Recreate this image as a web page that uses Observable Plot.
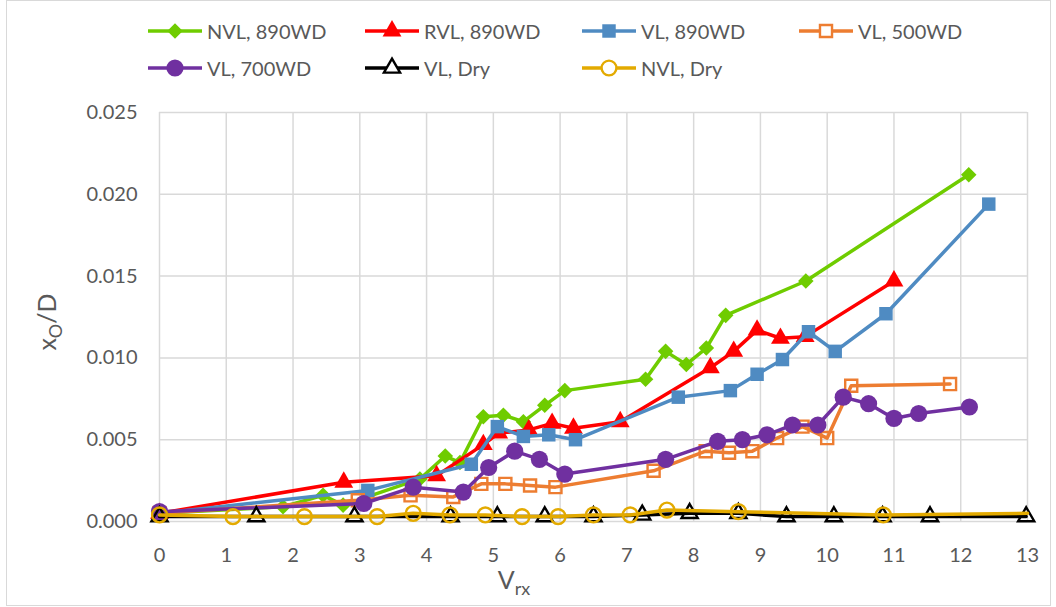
<!DOCTYPE html>
<html>
<head>
<meta charset="utf-8">
<script src="https://cdn.jsdelivr.net/npm/d3@7"></script>
<script src="https://cdn.jsdelivr.net/npm/@observablehq/plot@0.6"></script>
<style>
  html, body { margin: 0; padding: 0; background: #fff; }
  #chart { position: relative; width: 1056px; height: 607px; font-family: Lato, "Open Sans", sans-serif; color: #595959; }
  #border { position: absolute; left: 6px; top: 0px; width: 1043px; height: 604px; border: 1px solid #d9d9d9; pointer-events: none; }
  #legend { position: absolute; left: 148px; top: 12px; width: 880px; }
  .item { display: inline-flex; align-items: center; width: 217px; height: 37px; font-size: 20px; color: #595959; vertical-align: top; }
  .item svg { margin-right: 5px; overflow: visible; }
  #plot { position: absolute; left: 0; top: 90px; }
</style>
</head>
<body>
<div id="chart">
  <div id="legend"></div>
  <div id="plot"></div>
  <div id="border"></div>
</div>
<script>
// ---- data ----
const xTicks = [0,1,2,3,4,5,6,7,8,9,10,11,12,13];
const yTicks = [0, 0.005, 0.010, 0.015, 0.020, 0.025];

const names = ["NVL, 890WD", "RVL, 890WD", "VL, 890WD", "VL, 500WD", "VL, 700WD", "VL, Dry", "NVL, Dry"];

const nvl890X = [0, 1.85, 2.45, 2.75, 3.9, 4.28, 4.5, 4.85, 5.15, 5.45, 5.77, 6.07, 7.28, 7.58, 7.89, 8.19, 8.48, 9.68, 12.12];
const nvl890Y = [0.0005, 0.0009, 0.0016, 0.0010, 0.0026, 0.0040, 0.0036, 0.0064, 0.0065, 0.0061, 0.0071, 0.0080, 0.0087, 0.0104, 0.0096, 0.0106, 0.0126, 0.0147, 0.0212];

const rvl890X = [0, 2.76, 4.15, 4.85, 5.08, 5.53, 5.88, 6.2, 6.9, 8.25, 8.6, 8.95, 9.3, 9.67, 11.0];
const rvl890Y = [0.0005, 0.0024, 0.0028, 0.0047, 0.0054, 0.0056, 0.0060, 0.0057, 0.0061, 0.0094, 0.0104, 0.0117, 0.0112, 0.0113, 0.0147];

const vl890X = [0, 3.12, 4.67, 5.06, 5.45, 5.83, 6.23, 7.77, 8.55, 8.95, 9.33, 9.72, 10.12, 10.88, 12.42];
const vl890Y = [0.0005, 0.0019, 0.0035, 0.0058, 0.0052, 0.0053, 0.0050, 0.0076, 0.0080, 0.0090, 0.0099, 0.0116, 0.0104, 0.0127, 0.0194];

const vl500X = [0, 2.97, 3.76, 4.4, 4.82, 5.18, 5.55, 5.93, 7.4, 8.18, 8.53, 8.88, 9.25, 9.63, 10.0, 10.36, 11.84];
const vl500Y = [0.0005, 0.0013, 0.0016, 0.0015, 0.0023, 0.0023, 0.0022, 0.0021, 0.0031, 0.0043, 0.0042, 0.0043, 0.0051, 0.0058, 0.0051, 0.0083, 0.0084];

const vl700X = [0, 3.06, 3.8, 4.55, 4.93, 5.32, 5.69, 6.07, 7.58, 8.36, 8.73, 9.1, 9.48, 9.86, 10.24, 10.62, 11.0, 11.37, 12.13];
const vl700Y = [0.0006, 0.0011, 0.0021, 0.0018, 0.0033, 0.0043, 0.0038, 0.0029, 0.0038, 0.0049, 0.0050, 0.0053, 0.0059, 0.0059, 0.0076, 0.0072, 0.0063, 0.0066, 0.0070];

const vlDryX = [0, 1.45, 2.92, 4.36, 5.06, 5.77, 6.5, 7.23, 7.94, 8.67, 9.39, 10.1, 10.83, 11.54, 12.98];
const vlDryY = [0.0003, 0.0003, 0.0003, 0.0003, 0.0003, 0.0003, 0.0003, 0.0004, 0.0005, 0.0005, 0.0003, 0.0003, 0.0003, 0.0003, 0.0003];

const nvlDryX = [0, 1.1, 2.17, 3.26, 3.8, 4.35, 4.88, 5.43, 5.97, 6.5, 7.05, 7.6, 8.67, 10.84, 13.0];
const nvlDryY = [0.0004, 0.0003, 0.0003, 0.0003, 0.0005, 0.0004, 0.0004, 0.0003, 0.0003, 0.0004, 0.0004, 0.0007, 0.0006, 0.0004, 0.0005];
const nvlDryMarked = [1,1,1,1,1,1,1,1,1,1,1,1,1,1,0];

// ---- styling per series ----
const styles = [
  {color: "#6fcc00", symbol: "diamond2", r: 7.0, open: false},
  {color: "#ff0000", symbol: "triangle", r: 7.0, open: false},
  {color: "#4f8bc2", symbol: "square", r: 7.6, open: false},
  {color: "#ed7d31", symbol: "square", r: 6.8, open: true},
  {color: "#7030a0", symbol: "circle", r: 8.6, open: false},
  {color: "#000000", symbol: "triangle", r: 6.0, open: true},
  {color: "#e3aa00", symbol: "circle", r: 7.4, open: true}
];
const xs = [nvl890X, rvl890X, vl890X, vl500X, vl700X, vlDryX, nvlDryX];
const ys = [nvl890Y, rvl890Y, vl890Y, vl500Y, vl700Y, vlDryY, nvlDryY];

const series = names.map((name, k) => ({
  name, ...styles[k],
  rows: xs[k].map((x, i) => ({x, y: ys[k][i], marked: k === 6 ? nvlDryMarked[i] === 1 : true}))
}));

const marks = [
  Plot.gridX(xTicks, {stroke: "#d9d9d9", strokeOpacity: 1, strokeWidth: 1.5}),
  Plot.gridY(yTicks, {stroke: "#d9d9d9", strokeOpacity: 1, strokeWidth: 1.5}),
  Plot.axisX(xTicks, {tickSize: 0, tickPadding: 26, fontSize: 20, fill: "#595959", label: null, tickFormat: d3.format("d")}),
  Plot.axisY(yTicks, {tickSize: 0, tickPadding: 22, fontSize: 20, fill: "#595959", label: null, tickFormat: d3.format(".3f")})
];
for (const s of series) {
  marks.push(Plot.line(s.rows, {x: "x", y: "y", stroke: s.color, strokeWidth: 3.5, strokeLinejoin: "round"}));
  marks.push(Plot.dot(s.rows, {
    x: "x", y: "y", filter: d => d.marked, symbol: s.symbol, r: s.r,
    fill: s.open ? "none" : s.color, stroke: s.color, strokeWidth: s.open ? 2.4 : 0
  }));
}

const chart = Plot.plot({
  width: 1056, height: 517,
  marginLeft: 159, marginRight: 29, marginTop: 22, marginBottom: 86,
  x: {domain: [0, 13]},
  y: {domain: [0, 0.025]},
  style: {fontFamily: "Lato, 'Open Sans', sans-serif", background: "transparent", overflow: "visible"},
  marks
});
document.getElementById("plot").appendChild(chart);

// axis titles with subscripts
const svg = d3.select(chart);
const xt = svg.append("text").attr("x", 514).attr("y", 499).attr("text-anchor", "middle")
  .attr("fill", "#595959").style("font-size", "25px").style("font-family", "Lato, 'Open Sans', sans-serif");
xt.append("tspan").text("V");
xt.append("tspan").attr("dy", 6).style("font-size", "18px").text("rx");

const yt = svg.append("text").attr("transform", "translate(56,232) rotate(-90)").attr("text-anchor", "middle")
  .attr("fill", "#595959").style("font-size", "25px").style("font-family", "Lato, 'Open Sans', sans-serif");
yt.append("tspan").text("x");
yt.append("tspan").attr("dy", 6).style("font-size", "18px").text("O");
yt.append("tspan").attr("dy", -6).text("/D");

// legend
const symbolTypes = {diamond2: d3.symbolDiamond2, triangle: d3.symbolTriangle, square: d3.symbolSquare, circle: d3.symbolCircle};
const legend = d3.select("#legend");
for (const s of series) {
  const item = legend.append("div").attr("class", "item");
  const sw = item.append("svg").attr("width", 54).attr("height", 20);
  sw.append("line").attr("x1", 0).attr("x2", 54).attr("y1", 10).attr("y2", 10)
    .attr("stroke", s.color).attr("stroke-width", 3.5);
  sw.append("path").attr("transform", "translate(27,10)")
    .attr("d", d3.symbol(symbolTypes[s.symbol], Math.PI * s.r * s.r)())
    .attr("fill", s.open ? "white" : s.color)
    .attr("stroke", s.color).attr("stroke-width", s.open ? 2.4 : 0);
  item.append("span").text(s.name);
}
</script>
</body>
</html>
